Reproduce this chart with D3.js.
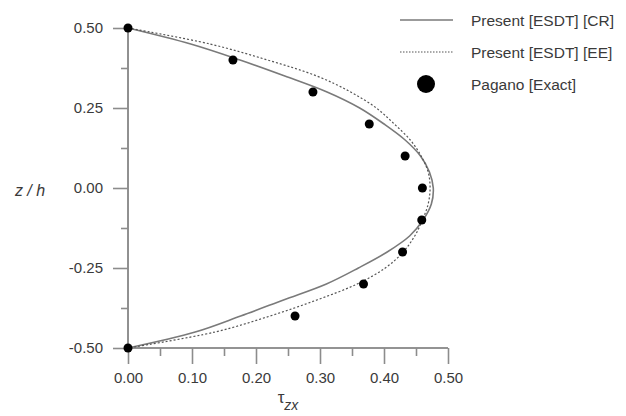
<!DOCTYPE html>
<html>
<head>
<meta charset="utf-8">
<script src="https://cdn.jsdelivr.net/npm/d3@7/dist/d3.min.js"></script>
<style>
  body { margin: 0; background: #fff; }
  svg { display: block; font-family: Arial, "Liberation Sans", sans-serif; }
</style>
</head>
<body>
<svg id="chart" width="626" height="416"></svg>
<script>
// z / h positions (shared by both model curves)
const zLevels = [0.50, 0.45, 0.40, 0.35, 0.30, 0.25, 0.20, 0.15, 0.10, 0.05, 0.00,
  -0.05, -0.10, -0.15, -0.20, -0.25, -0.30, -0.35, -0.40, -0.45, -0.50];

// tau_zx, Present [ESDT] [CR]
const tauCR = [0.000, 0.098, 0.175, 0.245, 0.311, 0.362, 0.400, 0.433, 0.457, 0.471, 0.477,
  0.474, 0.461, 0.440, 0.405, 0.360, 0.310, 0.243, 0.176, 0.105, 0.000];

// tau_zx, Present [ESDT] [EE]
const tauEE = [0.000, 0.128, 0.218, 0.295, 0.348, 0.388, 0.416, 0.441, 0.458, 0.469, 0.472,
  0.469, 0.460, 0.448, 0.430, 0.402, 0.358, 0.295, 0.222, 0.136, 0.000];

// Pagano [Exact]
const paganoZ = [0.5, 0.4, 0.3, 0.2, 0.1, 0.0, -0.1, -0.2, -0.3, -0.4, -0.5];
const paganoTau = [0.000, 0.164, 0.289, 0.377, 0.433, 0.460, 0.459, 0.429, 0.368, 0.261, 0.000];

const xMajor = [0, 0.1, 0.2, 0.3, 0.4, 0.5];
const xMinor = [0.05, 0.15, 0.25, 0.35, 0.45];
const yMajor = [0.5, 0.25, 0, -0.25, -0.5];
const yMinor = [0.375, 0.125, -0.125, -0.375];

const legendItems = ['Present [ESDT] [CR]', 'Present [ESDT] [EE]', 'Pagano [Exact]'];

const svg = d3.select('#chart');
const axisColor = '#8c8c8c';
const textColor = '#3a3a3a';

const x = d3.scaleLinear().domain([0, 0.5]).range([128, 448]);
const y = d3.scaleLinear().domain([-0.5, 0.5]).range([348, 28]);

// plain hyphen for negatives, like the original
const fmt = d => d.toFixed(2);

// x axis
const gx = svg.append('g').attr('transform', `translate(0,${y(-0.5)})`);
gx.call(d3.axisBottom(x).tickValues(xMajor).tickFormat(fmt).tickSize(16).tickPadding(8));
gx.append('g').call(d3.axisBottom(x).tickValues(xMinor).tickFormat('').tickSize(8));

// y axis
const gy = svg.append('g').attr('transform', `translate(${x(0)},0)`);
gy.call(d3.axisLeft(y).tickValues(yMajor).tickFormat(fmt).tickSize(15).tickPadding(10));
gy.append('g').call(d3.axisLeft(y).tickValues(yMinor).tickFormat('').tickSize(7));

svg.selectAll('.domain').attr('stroke', axisColor).attr('stroke-width', 1.6);
svg.selectAll('.tick line').attr('stroke', axisColor).attr('stroke-width', 1.6);
svg.selectAll('.tick text').attr('fill', textColor).attr('font-size', 15)
  .attr('font-family', 'Arial, "Liberation Sans", sans-serif');
gx.selectAll('.domain').attr('d', `M${x(0)},0H${x(0.5)}`);
gy.selectAll('.domain').attr('d', `M0,${y(-0.5)}V${y(0.5)}`);

// curves
const line = d3.line()
  .x(d => x(d[0]))
  .y(d => y(d[1]))
  .curve(d3.curveCatmullRom);

svg.append('path')
  .datum(zLevels.map((z, i) => [tauCR[i], z]))
  .attr('d', line)
  .attr('fill', 'none')
  .attr('stroke', '#7a7a7a')
  .attr('stroke-width', 1.6);

svg.append('path')
  .datum(zLevels.map((z, i) => [tauEE[i], z]))
  .attr('d', line)
  .attr('fill', 'none')
  .attr('stroke', '#555')
  .attr('stroke-width', 1.2)
  .attr('stroke-dasharray', '2,2');

svg.append('g').selectAll('circle')
  .data(paganoZ.map((z, i) => [paganoTau[i], z]))
  .join('circle')
  .attr('cx', d => x(d[0]))
  .attr('cy', d => y(d[1]))
  .attr('r', 4.5)
  .attr('fill', '#000');

// axis titles
svg.append('text')
  .attr('x', 30).attr('y', 196)
  .attr('text-anchor', 'middle')
  .attr('font-size', 16).attr('font-style', 'italic')
  .attr('fill', textColor)
  .text('z / h');

const tt = svg.append('text')
  .attr('x', 288).attr('y', 403)
  .attr('text-anchor', 'middle')
  .attr('font-size', 17)
  .attr('fill', textColor);
tt.append('tspan').text('τ');
tt.append('tspan').attr('dy', 7).attr('font-size', 14).attr('font-style', 'italic').text('zx');

// legend
const legend = svg.append('g');
const rowY = [20, 52, 84];
legendItems.forEach((label, i) => {
  const g = legend.append('g').attr('transform', `translate(0,${rowY[i]})`);
  if (i === 0) {
    g.append('line').attr('x1', 400).attr('x2', 453)
      .attr('stroke', '#7a7a7a').attr('stroke-width', 1.6);
  } else if (i === 1) {
    g.append('line').attr('x1', 400).attr('x2', 453)
      .attr('stroke', '#555').attr('stroke-width', 1.2).attr('stroke-dasharray', '1.5,1.5');
  } else {
    g.append('circle').attr('cx', 426).attr('r', 9).attr('fill', '#000');
  }
  g.append('text')
    .attr('x', 471).attr('y', 5.5)
    .attr('font-size', 15.5)
    .attr('fill', textColor)
    .text(label);
});
</script>
</body>
</html>
